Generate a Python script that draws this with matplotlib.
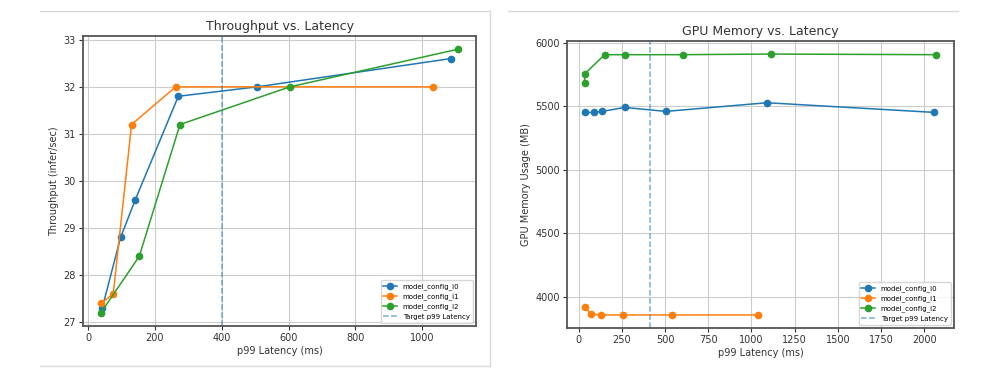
import matplotlib
matplotlib.use("Agg")
import matplotlib.pyplot as plt
from matplotlib.lines import Line2D

# Throughput vs latency
tp_i0_lat = [42, 97, 141, 270, 506, 1086]
tp_i0_val = [27.3, 28.8, 29.6, 31.8, 32.0, 32.6]
tp_i1_lat = [38, 75, 130, 262, 1034]
tp_i1_val = [27.4, 27.6, 31.2, 32.0, 32.0]
tp_i2_lat = [38, 153, 275, 604, 1108]
tp_i2_val = [27.2, 28.4, 31.2, 32.0, 32.8]
tp_target = 400

# GPU memory vs latency
mem_i0_lat = [37, 91, 137, 267, 505, 1090, 2058]
mem_i0_val = [5452, 5452, 5460, 5491, 5460, 5528, 5452]
mem_i1_lat = [37, 74, 132, 259, 538, 1038]
mem_i1_val = [3924, 3864, 3859, 3859, 3859, 3859]
mem_i2_lat = [35, 35, 151, 271, 606, 1111, 2070]
mem_i2_val = [5680, 5754, 5906, 5906, 5906, 5911, 5906]
mem_target = 413

labels = ["model_config_i0", "model_config_i1", "model_config_i2"]
target_label = "Target p99 Latency"

W, H = 986, 389
fig = plt.figure(figsize=(W / 100, H / 100), dpi=100)

def ax_rect(l, r, t, b):
    return [l / W, 1 - b / H, (r - l) / W, (b - t) / H]

ax1 = fig.add_axes(ax_rect(83, 476, 36, 326))
ax2 = fig.add_axes(ax_rect(567, 954, 41, 328))

def style(ax, title, ylabel):
    ax.set_title(title, fontsize=9, color="#333333", pad=4)
    ax.set_xlabel("p99 Latency (ms)", fontsize=7, color="#333333", labelpad=2)
    ax.set_ylabel(ylabel, fontsize=7, color="#333333", labelpad=3)
    ax.tick_params(labelsize=7, colors="#333333", length=3, pad=2)
    ax.grid(True, color="#cccccc", linewidth=0.8)
    for s in ax.spines.values():
        s.set_color("#555555")
        s.set_linewidth(1.3)

series1 = [(tp_i0_lat, tp_i0_val), (tp_i1_lat, tp_i1_val), (tp_i2_lat, tp_i2_val)]
for i, (x, y) in enumerate(series1):
    ax1.plot(x, y, marker="o", markersize=4.5, linewidth=1.1, color=f"C{i}", label=labels[i])
ax1.axvline(tp_target, linestyle="--", color="C0", alpha=0.6, linewidth=1.1, label=target_label)
style(ax1, "Throughput vs. Latency", "Throughput (infer/sec)")
ax1.legend(loc="lower right", fontsize=5, framealpha=0.8)

series2 = [(mem_i0_lat, mem_i0_val), (mem_i1_lat, mem_i1_val), (mem_i2_lat, mem_i2_val)]
for i, (x, y) in enumerate(series2):
    ax2.plot(x, y, marker="o", markersize=4.5, linewidth=1.1, color=f"C{i}", label=labels[i])
ax2.axvline(mem_target, linestyle="--", color="C0", alpha=0.6, linewidth=1.1, label=target_label)
style(ax2, "GPU Memory vs. Latency", "GPU Memory Usage (MB)")
ax2.set_yticks([4000, 4500, 5000, 5500, 6000])
ax2.legend(loc="lower right", fontsize=5, framealpha=0.8)

# screenshot frame lines
def fline(x0, y0, x1, y1):
    fig.add_artist(Line2D([x0 / W, x1 / W], [1 - y0 / H, 1 - y1 / H],
                          color="#d8d8d8", linewidth=1, transform=fig.transFigure))

fline(40, 11, 490, 11)
fline(40, 366, 490, 366)
fline(490, 11, 490, 366)
fline(508, 11, 958, 11)

fig.savefig("out.png", dpi=100)
